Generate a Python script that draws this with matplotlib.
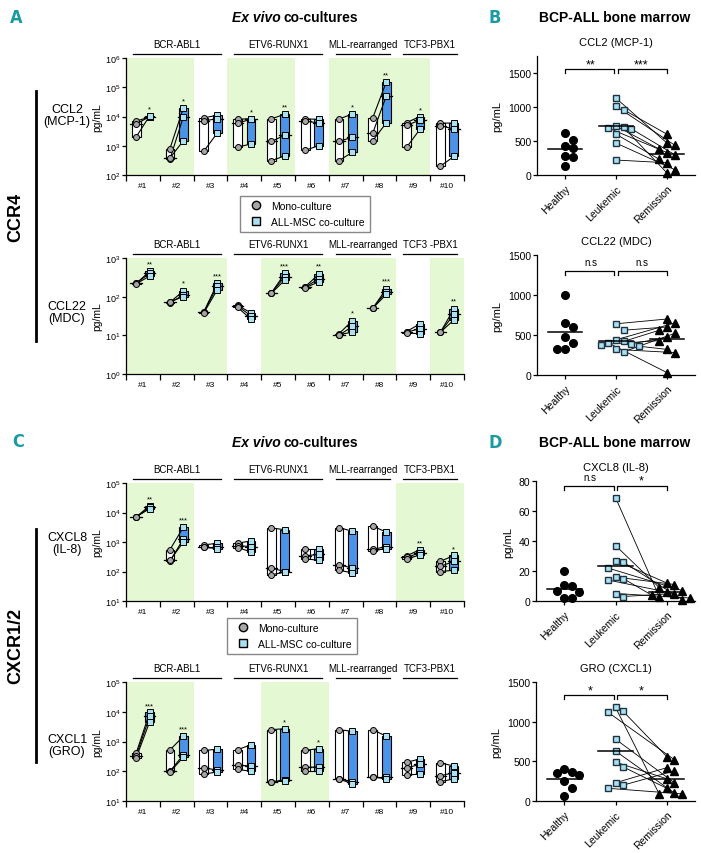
import numpy as np
import matplotlib
matplotlib.use("Agg")
import matplotlib.pyplot as plt
from matplotlib.lines import Line2D
from matplotlib.ticker import NullLocator
from matplotlib.transforms import blended_transform_factory

plt.rcParams["font.family"] = ["Liberation Sans", "DejaVu Sans"]
plt.rcParams["axes.linewidth"] = 0.9

W, H = 701, 854

GREEN = "#e4f8d4"
BLUE = "#4b93e6"
LIGHT = "#a9e0f2"
GREY = "#a6a6a6"
TEAL = "#1a9ba1"

samples = ["#1", "#2", "#3", "#4", "#5", "#6", "#7", "#8", "#9", "#10"]
group_sizes = [3, 3, 2, 2]
groups_a = ["BCR-ABL1", "ETV6-RUNX1", "MLL-rearranged", "TCF3-PBX1"]
groups_a2 = ["BCR-ABL1", "ETV6-RUNX1", "MLL-rearranged", "TCF3 -PBX1"]

# ex vivo co-cultures, 3 replicates per sample (mono-culture vs ALL-MSC co-culture)
ccl2_mono = [[7000, 5500, 2000], [800, 350, 380], [9000, 7000, 650], [8000, 6000, 900],
             [8300, 1400, 310], [8300, 7000, 700], [8200, 1420, 310], [9000, 2700, 1500],
             [6200, 5000, 880], [5900, 4900, 200]]
ccl2_co = [[9500, 10000, 10500], [20000, 10000, 1500], [11000, 8500, 2700], [8500, 8000, 1150],
           [12000, 2300, 450], [8000, 6000, 1000], [12200, 1950, 600], [150000, 50000, 6000],
           [10000, 7500, 3700], [6000, 3700, 430]]
ccl2_stars = ["*", "*", "", "*", "**", "", "*", "**", "*", ""]
ccl2_green = [(1, 2), (4, 5), (7, 9)]

ccl22_mono = [[220, 225, 215], [72, 70, 74], [40, 40, 38], [60, 57, 53], [125, 125, 122],
              [180, 175, 170], [11, 10, 10.5], [50, 50, 50], [12.5, 12, 11.5], [12, 12, 12]]
ccl22_co = [[450, 400, 340], [140, 110, 100], [220, 185, 150], [38, 32, 26], [400, 330, 270],
            [380, 290, 240], [24, 17, 12], [160, 135, 115], [20, 15, 11], [48, 35, 25]]
ccl22_stars = ["**", "*", "***", "", "***", "**", "*", "***", "", "**"]
ccl22_green = [(1, 3), (5, 8), (10, 10)]

cxcl8_mono = [[7000, 7000, 7100], [550, 220, 240], [800, 700, 660], [900, 750, 650],
              [3000, 130, 77], [600, 340, 270], [3100, 170, 110], [3400, 560, 500],
              [340, 300, 270], [220, 150, 100]]
cxcl8_co = [[17000, 15000, 13500], [3200, 1300, 1000], [900, 700, 600], [1100, 700, 460],
            [2600, 100, 95], [600, 380, 240], [2300, 130, 90], [2200, 700, 600],
            [550, 430, 360], [350, 220, 110]]
cxcl8_stars = ["**", "***", "", "", "", "", "", "", "**", "*"]
cxcl8_green = [(1, 2), (9, 10)]

cxcl1_mono = [[400, 330, 280], [520, 100, 95], [500, 130, 80], [530, 160, 115],
              [2500, 45, 42], [500, 135, 100], [2500, 55, 55], [2500, 65, 65],
              [200, 130, 75], [190, 70, 45]]
cxcl1_co = [[9500, 7000, 4600], [1500, 360, 300], [550, 110, 95], [780, 150, 100],
            [2700, 50, 48], [580, 140, 100], [2200, 45, 38], [1500, 65, 55],
            [260, 170, 80], [150, 90, 55]]
cxcl1_stars = ["***", "***", "", "", "*", "*", "", "", "", ""]
cxcl1_green = [(1, 2), (5, 6)]

# BCP-ALL bone marrow (leukemic and remission values are paired by index)
categories = ["Healthy", "Leukemic", "Remission"]
b_ccl2_healthy = [620, 520, 420, 400, 280, 270, 130]
b_ccl2_leuk = [1130, 1010, 960, 720, 700, 690, 680, 600, 470, 220]
b_ccl2_rem = [470, 440, 600, 380, 30, 330, 300, 230, 80, 180]
b_ccl22_healthy = [1000, 650, 600, 480, 400, 330, 330]
b_ccl22_leuk = [640, 560, 440, 420, 400, 390, 380, 360, 320, 290]
b_ccl22_rem = [700, 600, 650, 560, 30, 470, 430, 320, 280, 520]
d_cxcl8_healthy = [20, 11, 10, 7, 6, 2, 2]
d_cxcl8_leuk = [69, 37, 27, 26, 22, 16, 15, 14, 5, 3]
d_cxcl8_rem = [3, 9, 12, 1, 7, 11, 4, 6, 2, 5]
d_gro_healthy = [400, 360, 350, 330, 250, 170, 60]
d_gro_leuk = [1180, 1130, 1120, 780, 630, 490, 430, 230, 200, 160]
d_gro_rem = [90, 560, 520, 230, 100, 280, 160, 420, 380, 90]

fig = plt.figure(figsize=(W / 100, H / 100), dpi=100)


def px_axes(left, top, right, bottom):
    return fig.add_axes([left / W, 1 - bottom / H, (right - left) / W, (bottom - top) / H])


def coculture_panel(ax, mono, co, stars, green, ylim, group_names):
    x = np.arange(1, 11)
    ax.set_yscale("log")
    ax.set_ylim(*ylim)
    ax.set_xlim(0.5, 10.5)
    for a, b in green:
        ax.axvspan(a - 0.5, b + 0.5, color=GREEN, lw=0, zorder=0)
    for i in range(10):
        m = np.array(mono[i], dtype=float)
        c = np.array(co[i], dtype=float)
        for vals, dx, face in [(m, -0.2, "white"), (c, 0.2, BLUE)]:
            ax.bar(x[i] + dx, vals.max() - vals.min(), bottom=vals.min(), width=0.26,
                   color=face, edgecolor="black", lw=0.8, zorder=2)
            med = np.median(vals)
            ax.plot([x[i] + dx - 0.17, x[i] + dx + 0.17], [med, med], color="black", lw=0.9, zorder=3)
        for a, b in zip(m, c):
            ax.plot([x[i] - 0.2, x[i] + 0.2], [a, b], color="black", lw=0.8, zorder=4)
        ax.plot(np.full(3, x[i] - 0.2), m, "o", ms=4.3, mfc=GREY, mec="black", mew=0.7, zorder=5)
        ax.plot(np.full(3, x[i] + 0.2), c, "s", ms=4, mfc=LIGHT, mec="black", mew=0.7, zorder=5)
        if stars[i]:
            ax.text(x[i] + 0.2, c.max() * 1.3, stars[i], ha="center", va="bottom", fontsize=5.5)

    # group headers
    trans = blended_transform_factory(ax.transData, ax.transAxes)
    start = 1
    for name, n in zip(group_names, group_sizes):
        lo, hi = start - 0.3, start + n - 1 + 0.3
        ax.plot([lo, hi], [1.035, 1.035], transform=trans, color="black", lw=0.9, clip_on=False)
        ax.text((lo + hi) / 2, 1.12, name, transform=trans, ha="center", va="center", fontsize=7)
        start += n

    ax.set_xticks(x)
    ax.set_xticklabels(samples, fontsize=6)
    ax.set_xticks(np.arange(0.5, 11), minor=True)
    ax.tick_params(axis="x", which="major", length=0, pad=5)
    ax.tick_params(axis="x", which="minor", length=4, width=0.9)
    ax.yaxis.set_minor_locator(NullLocator())
    ax.tick_params(axis="y", labelsize=6.5, length=3, width=0.9, pad=1)
    ax.set_ylabel("pg/mL", fontsize=7.5, labelpad=2)
    for s in ["top", "right"]:
        ax.spines[s].set_visible(False)


def swarm(vals, ymax, height_px, unit_px, d=8.0):
    ys = np.asarray(vals, dtype=float) / ymax * height_px
    offs = np.zeros(len(ys))
    placed = []
    for i in np.argsort(-ys):
        for k in [0, 1, -1, 2, -2, 3, -3]:
            ox = k * d * 0.95
            if all((ox - px) ** 2 + (ys[i] - py) ** 2 >= (d * 0.95) ** 2 for px, py in placed):
                break
        offs[i] = ox / unit_px
        placed.append((ox, ys[i]))
    return offs


def marrow_panel(ax, healthy, leuk, rem, ymax, yticks, title, labels, ybr, height_px):
    unit_px = 51.0
    ax.set_xlim(-0.55, 2.55)
    ax.set_ylim(0, ymax)
    hx = 0 + swarm(healthy, ymax, height_px, unit_px)
    lx = 1 + swarm(leuk, ymax, height_px, unit_px)
    rx = 2 + swarm(rem, ymax, height_px, unit_px)
    for x0, y0, x1, y1 in zip(lx, leuk, rx, rem):
        ax.plot([x0, x1], [y0, y1], color="black", lw=0.6, zorder=2)
    ax.plot(hx, healthy, "o", ms=5.5, mfc="black", mec="black", ls="", zorder=3, clip_on=False)
    ax.plot(lx, leuk, "s", ms=5, mfc=LIGHT, mec="#1f3340", mew=1.0, ls="", zorder=3, clip_on=False)
    ax.plot(rx, rem, "^", ms=6, mfc="black", mec="black", ls="", zorder=3, clip_on=False)
    for k, vals in enumerate([healthy, leuk, rem]):
        mu = np.mean(vals)
        ax.plot([k - 0.34, k + 0.34], [mu, mu], color="black", lw=1.1, zorder=4)
    # significance brackets
    tick = ymax * 0.035
    ax.plot([0, 0, 0.97, 0.97], [ybr - tick, ybr, ybr, ybr - tick], color="black", lw=0.9, clip_on=False)
    ax.plot([1.03, 1.03, 2, 2], [ybr - tick, ybr, ybr, ybr - tick], color="black", lw=0.9, clip_on=False)
    for xc, lab in zip([0.5, 1.5], labels):
        if lab == "n.s":
            ax.text(xc, ybr + ymax * 0.03, lab, ha="center", va="bottom", fontsize=7)
        else:
            ax.text(xc, ybr - ymax * 0.01, lab, ha="center", va="bottom", fontsize=9)
    ax.set_xticks([0, 1, 2])
    ax.set_xticklabels(categories, rotation=45, ha="right", rotation_mode="anchor", fontsize=7.5)
    ax.set_yticks(yticks)
    ax.tick_params(axis="y", labelsize=7.5, length=3, width=0.9, pad=1)
    ax.tick_params(axis="x", length=3, width=0.9, pad=3)
    ax.set_ylabel("pg/mL", fontsize=8, labelpad=4)
    ax.set_title(title, fontsize=8, pad=8)
    for s in ["top", "right"]:
        ax.spines[s].set_visible(False)


# left: ex vivo co-cultures
ax1 = px_axes(126, 59, 464, 176)
coculture_panel(ax1, ccl2_mono, ccl2_co, ccl2_stars, ccl2_green, (1e2, 1e6), groups_a)
ax2 = px_axes(126, 259, 464, 375)
coculture_panel(ax2, ccl22_mono, ccl22_co, ccl22_stars, ccl22_green, (1e0, 1e3), groups_a2)
ax3 = px_axes(126, 484, 464, 602)
coculture_panel(ax3, cxcl8_mono, cxcl8_co, cxcl8_stars, cxcl8_green, (1e1, 1e5), groups_a)
ax4 = px_axes(126, 683, 464, 802)
coculture_panel(ax4, cxcl1_mono, cxcl1_co, cxcl1_stars, cxcl1_green, (1e1, 1e5), groups_a)

# right: BCP-ALL bone marrow
bx1 = px_axes(537, 57, 695, 176)
marrow_panel(bx1, b_ccl2_healthy, b_ccl2_leuk, b_ccl2_rem, 1750, [0, 500, 1000, 1500],
             "CCL2 (MCP-1)", ["**", "***"], 1560, 119)
bx2 = px_axes(537, 256, 695, 376)
marrow_panel(bx2, b_ccl22_healthy, b_ccl22_leuk, b_ccl22_rem, 1500, [0, 500, 1000, 1500],
             "CCL22 (MDC)", ["n.s", "n.s"], 1300, 120)
dx1 = px_axes(536, 482, 695, 602)
marrow_panel(dx1, d_cxcl8_healthy, d_cxcl8_leuk, d_cxcl8_rem, 80, [0, 20, 40, 60, 80],
             "CXCL8 (IL-8)", ["n.s", "*"], 77, 120)
dx2 = px_axes(536, 683, 695, 802)
marrow_panel(dx2, d_gro_healthy, d_gro_leuk, d_gro_rem, 1500, [0, 500, 1000, 1500],
             "GRO (CXCL1)", ["*", "*"], 1336, 119)

# legends
handles = [Line2D([], [], marker="o", ls="", mfc=GREY, mec="black", ms=6),
           Line2D([], [], marker="s", ls="", mfc=LIGHT, mec="black", ms=6)]
leg_labels = ["Mono-culture", "ALL-MSC co-culture"]
for cx, cy in [(305, 215), (292, 637)]:
    fig.legend(handles, leg_labels, loc="center", bbox_to_anchor=(cx / W, 1 - cy / H),
               fancybox=False, edgecolor="#888888", fontsize=7.5, handletextpad=0.4,
               borderpad=0.5, labelspacing=0.6, framealpha=1)


def ftext(x, y, s, **kw):
    fig.text(x / W, 1 - y / H, s, **kw)


# titles and panel letters
for y in [18, 443]:
    ftext(281, y, "Ex vivo", fontsize=10, fontweight="bold", style="italic", ha="right", va="center")
    ftext(284, y, "co-cultures", fontsize=10, fontweight="bold", ha="left", va="center")
    ftext(615, y, "BCP-ALL bone marrow", fontsize=10, fontweight="bold", ha="center", va="center")
for lab, x, y in [("A", 16, 18), ("B", 495, 18), ("C", 18, 442), ("D", 495, 443)]:
    ftext(x, y, lab, fontsize=13, fontweight="bold", color=TEAL, ha="center", va="center",
          fontstretch="condensed", family="DejaVu Sans")

# receptor labels
ftext(16, 217, "CCR4", fontsize=13, fontweight="bold", rotation=90, ha="center", va="center")
ftext(16, 646, "CXCR1/2", fontsize=13, fontweight="bold", rotation=90, ha="center", va="center")
fig.add_artist(Line2D([36 / W, 36 / W], [1 - 92 / H, 1 - 342 / H], color="black", lw=2))
fig.add_artist(Line2D([36 / W, 36 / W], [1 - 530 / H, 1 - 763 / H], color="black", lw=2))
for s, y in [("CCL2\n(MCP-1)", 116), ("CCL22\n(MDC)", 313), ("CXCL8\n(IL-8)", 544), ("CXCL1\n(GRO)", 746)]:
    ftext(67, y, s, fontsize=9, ha="center", va="center", linespacing=1.1)

fig.savefig("out.png", dpi=100)
